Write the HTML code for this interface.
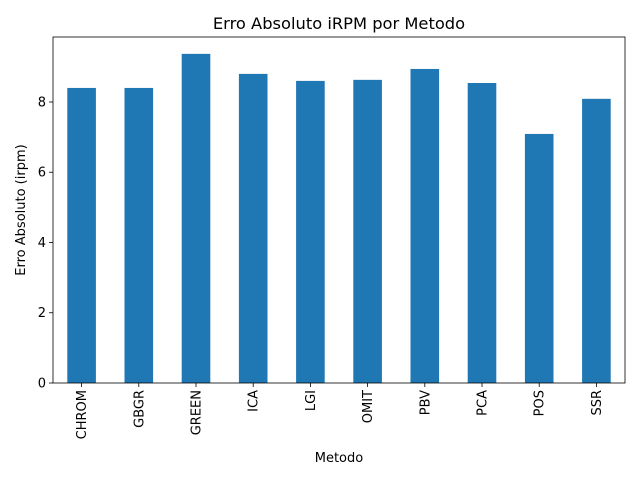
<!DOCTYPE html>
<html><head><meta charset="utf-8"><style>body{margin:0;background:#fff}svg{font-family:"DejaVu Sans","Liberation Sans",sans-serif}</style></head>
<body>
<svg id="chart" width="640" height="480"></svg>
<script>
const categories=["CHROM","GBGR","GREEN","ICA","LGI","OMIT","PBV","PCA","POS","SSR"];
const values=[8.40,8.40,9.37,8.80,8.60,8.63,8.94,8.54,7.09,8.09];
const yTicks=[0,2,4,6,8];
const NS="http://www.w3.org/2000/svg";
const svg=document.getElementById("chart");
const L=53,R=625,T=37,B=383,yMax=9.85;
const y=v=>B-(v/yMax)*(B-T);
const step=(R-L)/categories.length;
const x=i=>L+step*(i+0.5);
function el(t,a,txt){const e=document.createElementNS(NS,t);for(const k in a)e.setAttribute(k,a[k]);if(txt!==undefined)e.textContent=txt;svg.appendChild(e);return e;}
categories.forEach((c,i)=>{
 const b=el("rect",{x:x(i)-step/4,y:y(values[i]),width:step/2,height:B-y(values[i]),fill:"#1f77b4"});
 
 
 const tk=el("line",{x1:x(i),x2:x(i),y1:B,y2:B+4,stroke:"#000","stroke-width":0.8});
 
 
 const t=el("text",{x:0,y:0,"font-size":13,"text-anchor":"end",transform:`translate(${x(i)+4.5},${B+7}) rotate(-90)`},c);
 
 
});
yTicks.forEach(v=>{
 const tk=el("line",{x1:L-4,x2:L,y1:y(v),y2:y(v),stroke:"#000","stroke-width":0.8});
 
 
 const t=el("text",{x:L-7,y:y(v)+4.5,"font-size":13,"text-anchor":"end"},String(v));
 
 
});
const f=el("rect",{x:L,y:T,width:R-L,height:B-T,fill:"none",stroke:"#000","stroke-width":0.8});


const ti=el("text",{x:(L+R)/2,y:29,"font-size":16.3,"text-anchor":"middle"},"Erro Absoluto iRPM por Metodo");


const xt=el("text",{x:(L+R)/2,y:462,"font-size":13,"text-anchor":"middle"},"Metodo");


const yt=el("text",{x:0,y:0,"font-size":13,"text-anchor":"middle",transform:`translate(25,${(T+B)/2}) rotate(-90)`},"Erro Absoluto (irpm)");


</script>
</body></html>
